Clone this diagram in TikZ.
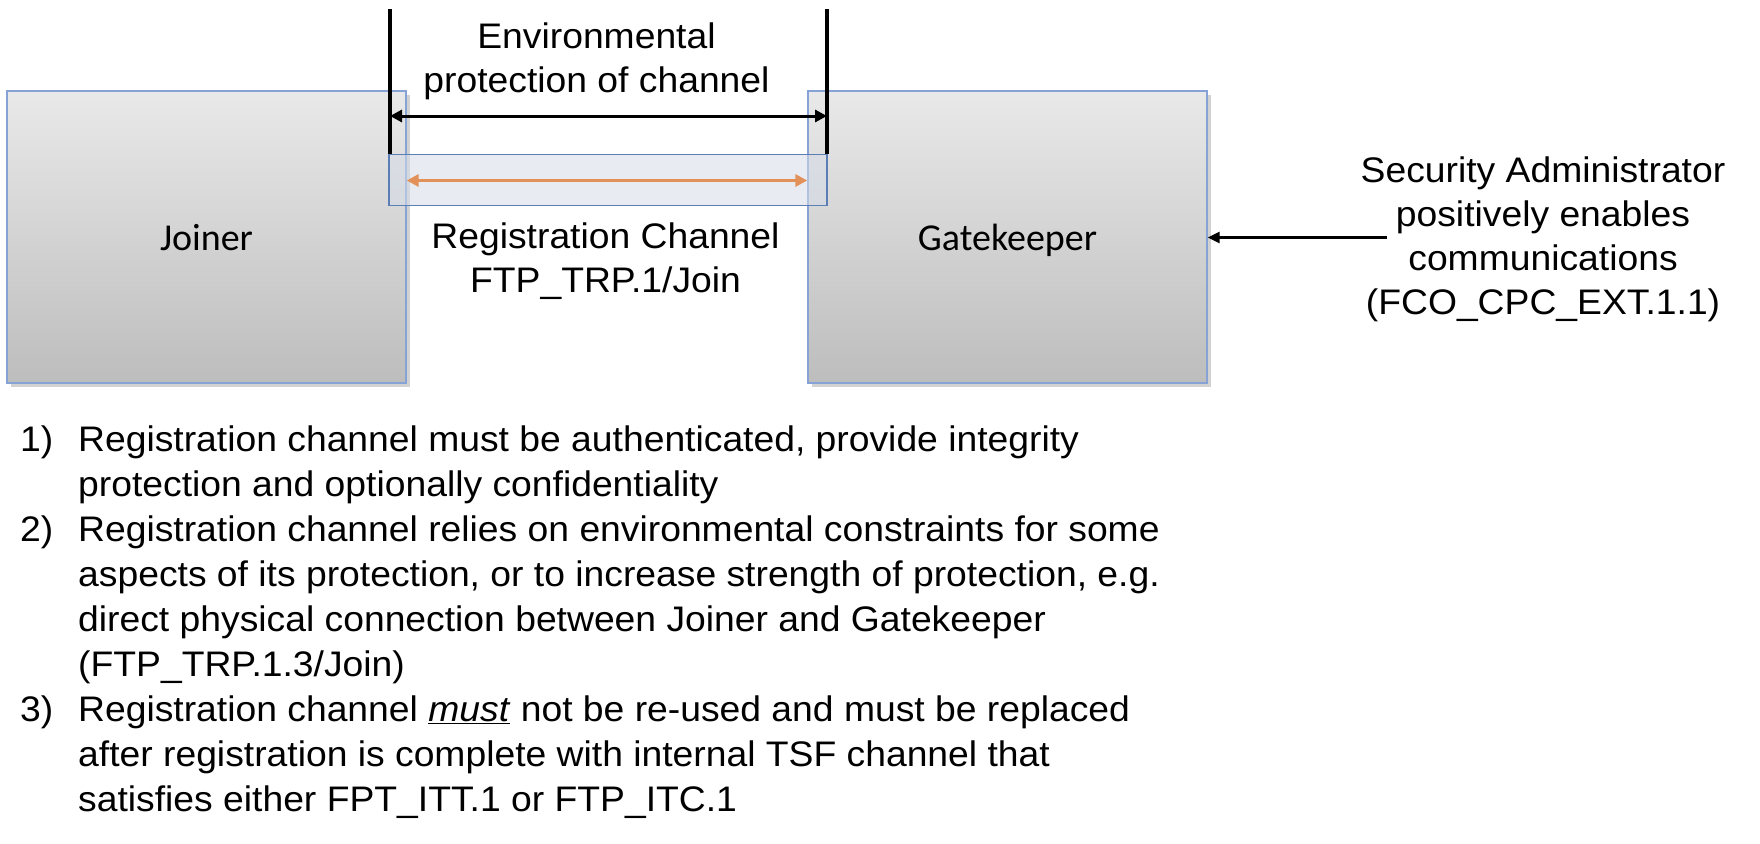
\documentclass[tikz,border=0pt]{standalone}
\usepackage{fontspec}
\setmainfont{Liberation Sans}
\newfontfamily\lbl[FakeStretch=1.05]{Liberation Sans}
\newfontfamily\calfont{Carlito}
\usetikzlibrary{arrows.meta,shadows}
\definecolor{boxtop}{HTML}{E9E9E9}
\definecolor{boxbot}{HTML}{BDBDBD}
\definecolor{boxedge}{HTML}{86A3D8}
\definecolor{chedge}{HTML}{5A7EB5}
\definecolor{chfill}{HTML}{D5DCE8}
\definecolor{orangearr}{HTML}{E3915A}
\begin{document}
\begin{tikzpicture}[x=1pt,y=-1pt,
  entity/.style={draw=boxedge, line width=1.3pt, top color=boxtop, bottom color=boxbot,
    minimum width=399pt, minimum height=292pt, inner sep=0pt,
    text height=26pt, text depth=0pt,
    font=\calfont\fontsize{38}{44}\selectfont,
    drop shadow={shadow xshift=4pt, shadow yshift=-4pt, opacity=0.25, fill=black!70}},
  chanbox/.style={draw=chedge, line width=1.2pt, fill=chfill, fill opacity=0.55,
    minimum width=438pt, minimum height=51pt, inner sep=0pt},
  vline/.style={line width=3.2pt, black},
  dimarrow/.style={line width=3pt, {Triangle[length=12pt,width=12pt]}-{Triangle[length=12pt,width=12pt]}},
  orarrow/.style={line width=3pt, orangearr, {Triangle[length=12pt,width=12pt]}-{Triangle[length=12pt,width=12pt]}},
  adminarrow/.style={line width=2.7pt, -{Triangle[length=12pt,width=11pt]}},
  label/.style={font=\lbl\fontsize{35.5}{44}\selectfont, align=center, inner sep=0pt}
]
\useasboundingbox (0,0) rectangle (1760,843);

\node[entity] (joiner) at (206.5,237) {Joiner};
\node[entity] (gate) at (1007.5,237) {Gatekeeper};
\node[chanbox] (chan) at (608,180) {};

\coordinate (lt) at (390,9.5);
\coordinate (rt) at (827,9.5);
\coordinate (la) at (390,116);
\coordinate (ra) at (827,116);
\draw[vline] (lt) -- (lt |- chan.north);
\draw[vline] (rt) -- (rt |- chan.north);
\draw[dimarrow] (la) -- (ra);
\draw[orarrow] (joiner.east |- 0,180.5) -- (gate.west |- 0,180.5);

\node[label] (env) at (596.5,61.5) {Environmental\\protection of channel};
\node[label] (reg) at (605.5,261) {Registration Channel\\FTP\_TRP.1/Join};
\node[label] (admin) at (1543,239.5) {Security Administrator\\positively enables\\communications\\(FCO\_CPC\_EXT.1.1)};

\coordinate (sa) at (1387,237.5);
\draw[adminarrow] (sa) -- (gate.east |- sa);

\node[anchor=north west, inner sep=0pt, font=\lbl\fontsize{35.5}{45}\selectfont] (list) at (20,419.5) {%
\begin{tabular}{@{}p{58pt}@{}l@{}}
1) & Registration channel must be authenticated, provide integrity\\
   & protection and optionally confidentiality\\
2) & Registration channel relies on environmental constraints for some\\
   & aspects of its protection, or to increase strength of protection, e.g.\\
   & direct physical connection between Joiner and Gatekeeper\\
   & (FTP\_TRP.1.3/Join)\\
3) & Registration channel \underline{\textit{must}} not be re-used and must be replaced\\
   & after registration is complete with internal TSF channel that\\
   & satisfies either FPT\_ITT.1 or FTP\_ITC.1
\end{tabular}};
\end{tikzpicture}
\end{document}
